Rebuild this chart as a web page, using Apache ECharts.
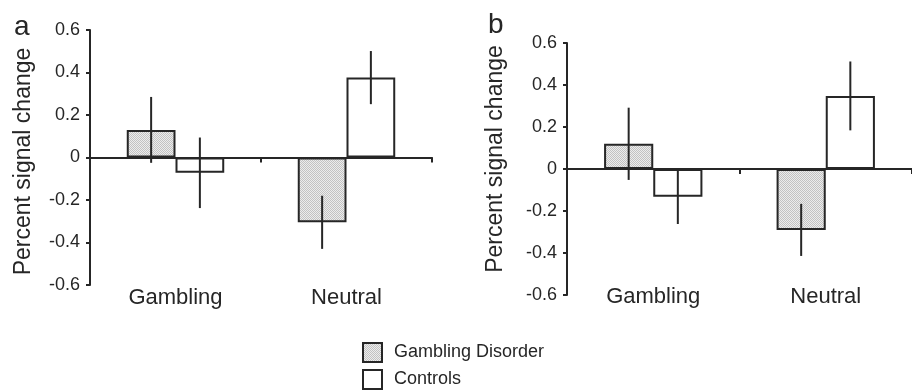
<!DOCTYPE html>
<html>
<head>
<meta charset="utf-8">
<script src="https://cdn.jsdelivr.net/npm/echarts@6/dist/echarts.min.js"></script>
<style>html,body{margin:0;padding:0;background:#fff}#c{width:912px;height:392px}</style>
</head>
<body>
<div id="c"></div>
<script>
// ---- data ----
const categories = ['Gambling', 'Neutral'];
const yTicks = [-0.6, -0.4, -0.2, 0, 0.2, 0.4, 0.6];
const seriesNames = ['Gambling Disorder', 'Controls'];
// panel a
const aGD = [0.13, -0.305];
const aGDErr = [0.155, 0.125];
const aCtrl = [-0.072, 0.376];
const aCtrlErr = [0.166, 0.125];
// panel b
const bGD = [0.12, -0.29];
const bGDErr = [0.172, 0.124];
const bCtrl = [-0.132, 0.348];
const bCtrlErr = [0.13, 0.164];
const panelLetters = ['a', 'b'];
const yName = 'Percent signal change';

// ---- styles ----
const INK = '#262626';
const FONT = '"Liberation Sans", Arial, sans-serif';
const BARW = 0.285;

function stipple() {
  const c = document.createElement('canvas');
  c.width = 2; c.height = 2;
  const g = c.getContext('2d');
  g.fillStyle = '#ececec'; g.fillRect(0, 0, 2, 2);
  g.fillStyle = '#c2c2c2'; g.fillRect(0, 0, 1, 1); g.fillRect(1, 1, 1, 1);
  return c;
}
const pattern = { image: stipple(), repeat: 'repeat' };

const grids = [
  { left: 90, top: 30, width: 342, height: 255 },
  { left: 567, top: 43, width: 356, height: 252 }
];

function errData(mean, err) {
  return mean.map((m, i) => [i, m - err[i], m + err[i]]);
}
function errSeries(gi, mean, err, sign) {
  return {
    type: 'custom', xAxisIndex: gi * 2, yAxisIndex: gi, silent: true, z: 5,
    data: errData(mean, err),
    renderItem: function (params, api) {
      const i = api.value(0);
      const bw = api.size([1, 0])[0];
      const off = sign * bw * BARW / 2;
      const p1 = api.coord([i, api.value(2)]);
      const p2 = api.coord([i, api.value(1)]);
      return {
        type: 'line',
        shape: { x1: p1[0] + off, y1: p1[1], x2: p2[0] + off, y2: p2[1] },
        style: { stroke: INK, lineWidth: 2 }
      };
    }
  };
}

const xAxes = [], yAxes = [], series = [];
const panels = [[aGD, aGDErr, aCtrl, aCtrlErr], [bGD, bGDErr, bCtrl, bCtrlErr]];
const labelOffsets = [0, 11];
const nameGaps = [55, 60];
const namePads = [[0, 8, 0, 0], [0, 0, 0, 20]];
panels.forEach((p, gi) => {
  xAxes.push({
    type: 'category', gridIndex: gi, data: categories,
    axisLine: { onZero: true, lineStyle: { color: INK, width: 2 } },
    axisTick: { show: true, length: 5, lineStyle: { color: INK, width: 2 } },
    axisLabel: { show: false }
  });
  xAxes.push({
    type: 'category', gridIndex: gi, data: categories, position: 'bottom',
    offset: -labelOffsets[gi],
    axisLine: { show: false, onZero: false }, axisTick: { show: false },
    axisLabel: { margin: 2, fontSize: 22, color: INK, fontFamily: FONT }
  });
  yAxes.push({
    type: 'value', gridIndex: gi, min: -0.6, max: 0.6, interval: 0.2,
    name: yName, nameLocation: 'middle', nameGap: nameGaps[gi], nameRotate: 90,
    nameTextStyle: { fontSize: 23, color: INK, fontFamily: FONT, padding: namePads[gi] },
    splitLine: { show: false },
    axisLine: { show: true, lineStyle: { color: INK, width: 2 } },
    axisTick: { show: true, length: 4, lineStyle: { color: INK, width: 2 } },
    axisLabel: {
      margin: 10, fontSize: 18, color: INK, fontFamily: FONT,
      formatter: v => {
        const t = yTicks.find(x => Math.abs(x - v) < 1e-6);
        return t === 0 ? '0' : (t !== undefined ? t.toFixed(1) : '');
      }
    }
  });
  series.push({
    name: seriesNames[0], type: 'bar', xAxisIndex: gi * 2, yAxisIndex: gi,
    data: p[0], barWidth: (BARW * 100) + '%', barGap: '0%',
    itemStyle: { color: pattern, borderColor: INK, borderWidth: 2 }
  });
  series.push({
    name: seriesNames[1], type: 'bar', xAxisIndex: gi * 2, yAxisIndex: gi,
    data: p[2], barWidth: (BARW * 100) + '%', barGap: '0%',
    itemStyle: { color: '#ffffff', borderColor: INK, borderWidth: 2 }
  });
  series.push(errSeries(gi, p[0], p[1], -1));
  series.push(errSeries(gi, p[2], p[3], 1));
});

const chart = echarts.init(document.getElementById('c'), null, { renderer: 'canvas' });
chart.setOption({
  animation: false,
  backgroundColor: '#ffffff',
  grid: grids,
  xAxis: xAxes,
  yAxis: yAxes,
  series: series,
  legend: {
    data: seriesNames, orient: 'vertical', left: 362, top: 342, height: 60,
    padding: 0,
    itemWidth: 19, itemHeight: 19, itemGap: 6, icon: 'rect',
    textStyle: { fontSize: 18, lineHeight: 19, color: INK, fontFamily: FONT, padding: [0, 0, 0, 7] }
  },
  graphic: [
    { type: 'text', left: 14, top: 13, style: { text: panelLetters[0], fontSize: 28, fill: INK, fontFamily: FONT } },
    { type: 'text', left: 488, top: 11, style: { text: panelLetters[1], fontSize: 28, fill: INK, fontFamily: FONT } }
  ]
});
</script>
</body>
</html>
